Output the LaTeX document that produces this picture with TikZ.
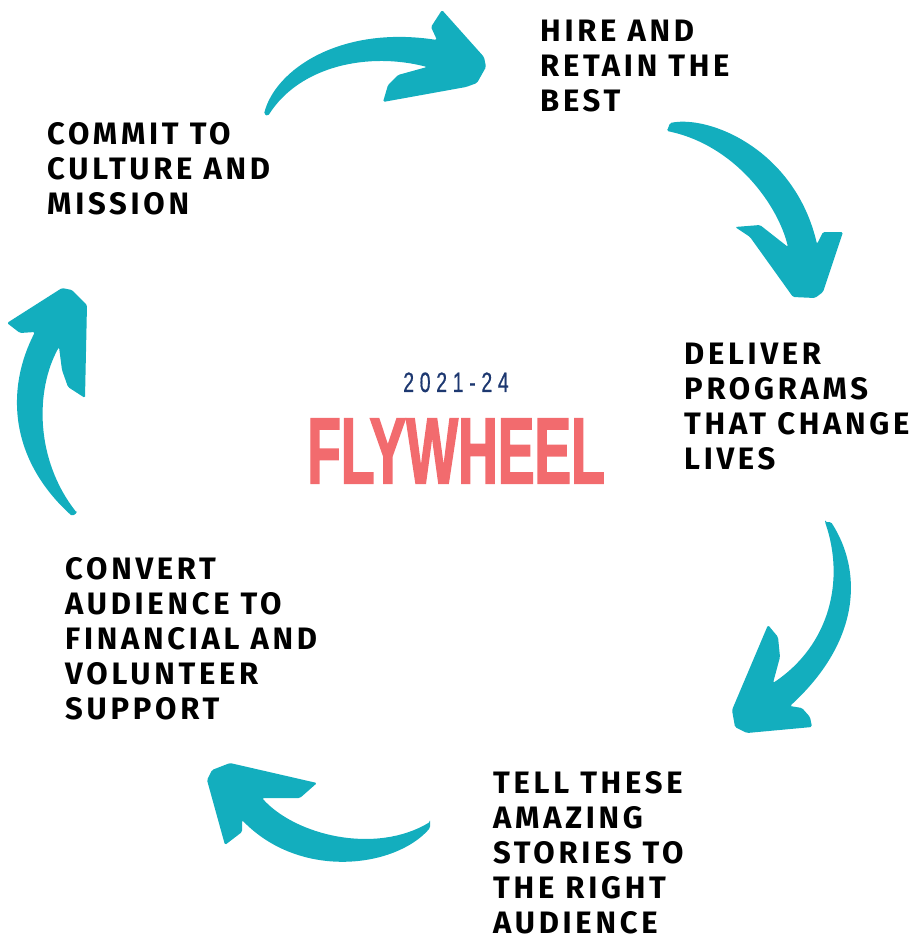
\documentclass[tikz,border=0pt]{standalone}
\usepackage{fontspec}
\usetikzlibrary{positioning}
\newfontfamily\stagefont[LetterSpace=12]{Fira Sans}
\newfontfamily\wheelfont[FakeStretch=0.585,FakeBold=1.5]{Liberation Sans}
\newfontfamily\yearfont[FakeStretch=0.7,LetterSpace=20,FakeBold=0.5]{Liberation Sans}
\definecolor{swooshteal}{HTML}{13AEBE}
\definecolor{wheelred}{HTML}{F26B6E}
\definecolor{yearblue}{HTML}{1D3870}
\tikzset{
  stage/.style={font={\stagefont\bfseries\fontsize{31}{35}\selectfont},
    align=left, anchor=north west, inner sep=0pt},
  swoosh/.style={fill=swooshteal, draw=none, rounded corners=1.5pt},
}
\begin{document}
\begin{tikzpicture}[x=1pt, y=-1pt]
  \useasboundingbox (0,0) rectangle (913,940);

  \node[font={\wheelfont\bfseries\fontsize{94}{94}\selectfont}, text=wheelred, inner sep=0pt] (title) at (456,451) {FLYWHEEL};
  \node[font={\yearfont\fontsize{28}{28}\selectfont}, text=yearblue, inner sep=0pt] (year) [above=26pt of title] {2021-24};

  \node[stage] (hire) at (540,20) {HIRE AND\\RETAIN THE\\BEST};
  \node[stage] (deliver) at (684,343) {DELIVER\\PROGRAMS\\THAT CHANGE\\LIVES};
  \node[stage] (tell) at (493,771) {TELL THESE\\AMAZING\\STORIES TO\\THE RIGHT\\AUDIENCE};
  \node[stage] (convert) at (65,557) {CONVERT\\AUDIENCE TO\\FINANCIAL AND\\VOLUNTEER\\SUPPORT};
  \node[stage] (commit) at (47,122) {COMMIT TO\\CULTURE AND\\MISSION};

  % commit -> hire
  \fill[swoosh] (264,114) .. controls (275,70) and (340,25) .. (437,40)
    -- (431,27) -- (442,10) -- (484,57) -- (486,67) -- (477,83) -- (466,87)
    -- (383,102) -- (388,85) -- (398,75) -- (427,67)
    .. controls (370,52) and (300,65) .. (268,116) -- cycle;
  % hire -> deliver
  \fill[swoosh] (667,131) -- (670,123) .. controls (710,115) and (795,150) .. (817,244)
    -- (823,232) -- (843,232) -- (823,292) -- (815,298) -- (793,297)
    -- (750,237) -- (735,227) -- (760,225) -- (788,247)
    .. controls (778,205) and (735,145) .. (667,131) -- cycle;
  % deliver -> tell
  \fill[swoosh] (825,522) -- (831,522) .. controls (862,570) and (862,640) .. (790,706)
    -- (802,708) -- (810,717) -- (812,727) -- (747,733) -- (735,727) -- (732,710)
    -- (768,625) -- (778,637) -- (780,657) -- (773,683)
    .. controls (830,645) and (845,580) .. (825,522) -- cycle;
  % tell -> convert
  \fill[swoosh] (430,822) -- (430,828) .. controls (395,868) and (300,880) .. (242,820)
    -- (242,832) -- (225,845) -- (207,780) -- (212,770) -- (230,763)
    -- (317,783) -- (300,798) -- (262,798)
    .. controls (295,835) and (375,855) .. (430,822) -- cycle;
  % convert -> commit
  \fill[swoosh] (77,513) -- (72,516) .. controls (10,460) and (5,390) .. (35,332)
    -- (20,333) -- (7,323) -- (62,288) -- (72,290) -- (87,305)
    -- (85,398) -- (68,387) -- (62,370) -- (59,347)
    .. controls (35,390) and (35,460) .. (77,513) -- cycle;
\end{tikzpicture}
\end{document}
